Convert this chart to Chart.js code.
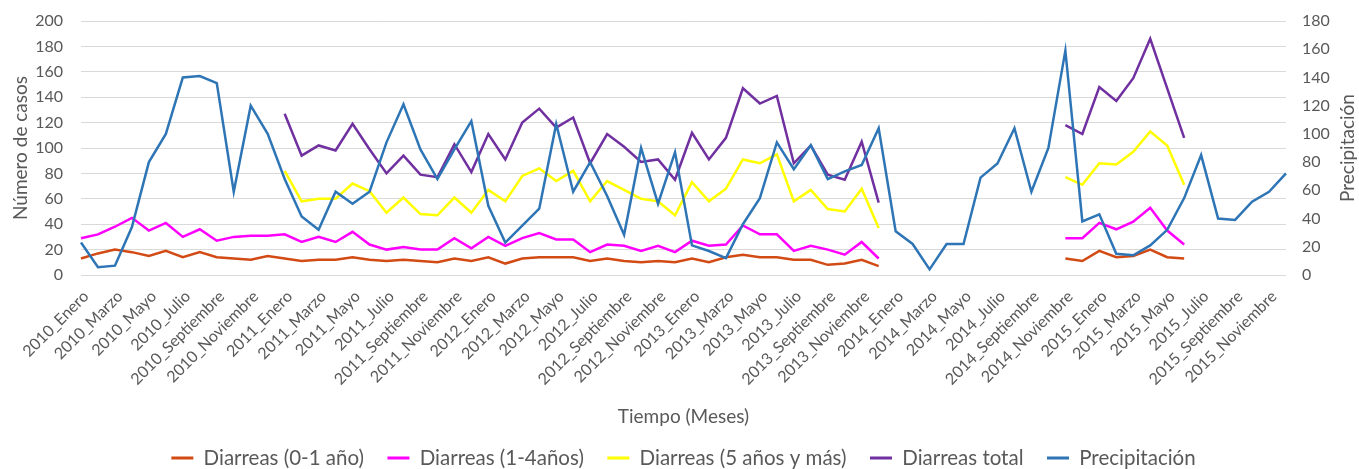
<!DOCTYPE html>
<html>
<head>
<meta charset="utf-8">
<script src="https://cdn.jsdelivr.net/npm/chart.js@4.4.1/dist/chart.umd.min.js"></script>
<style>
  html, body { margin: 0; padding: 0; background: #ffffff; }
  #wrap { width: 1359px; height: 469px; }
</style>
</head>
<body>
<div id="wrap"><canvas id="chart" width="1359" height="469"></canvas></div>
<script>
// Months of the series, 2010–2015
const years = [2010, 2011, 2012, 2013, 2014, 2015];
const months = ['Enero', 'Febrero', 'Marzo', 'Abril', 'Mayo', 'Junio', 'Julio',
                'Agosto', 'Septiembre', 'Octubre', 'Noviembre', 'Diciembre'];
const categories = years.flatMap(y => months.map(m => y + '_' + m));

// Monthly diarrhoea cases by age group (no records for 2010 in the older groups
// and for Jan–Oct 2014 and Jul–Dec 2015)
const diarreas01 = [13, 17, 20, 18, 15, 19, 14, 18, 14, 13, 12, 15,
                    13, 11, 12, 12, 14, 12, 11, 12, 11, 10, 13, 11,
                    14, 9, 13, 14, 14, 14, 11, 13, 11, 10, 11, 10,
                    13, 10, 14, 16, 14, 14, 12, 12, 8, 9, 12, 7,
                    null, null, null, null, null, null, null, null, null, null, 13, 11,
                    19, 14, 15, 20, 14, 13, null, null, null, null, null, null];
const diarreas14 = [29, 32, 38, 45, 35, 41, 30, 36, 27, 30, 31, 31,
                    32, 26, 30, 26, 34, 24, 20, 22, 20, 20, 29, 21,
                    30, 23, 29, 33, 28, 28, 18, 24, 23, 19, 23, 18,
                    27, 23, 24, 39, 32, 32, 19, 23, 20, 16, 26, 13,
                    null, null, null, null, null, null, null, null, null, null, 29, 29,
                    41, 36, 42, 53, 35, 24, null, null, null, null, null, null];
const diarreas5mas = [null, null, null, null, null, null, null, null, null, null, null, null,
                      82, 58, 60, 60, 72, 66, 49, 61, 48, 47, 61, 49,
                      67, 58, 78, 84, 74, 82, 58, 74, 67, 60, 58, 47,
                      73, 58, 68, 91, 88, 95, 58, 67, 52, 50, 68, 37,
                      null, null, null, null, null, null, null, null, null, null, 77, 71,
                      88, 87, 97, 113, 102, 71, null, null, null, null, null, null];
const diarreasTotal = [null, null, null, null, null, null, null, null, null, null, null, null,
                       127, 94, 102, 98, 119, 99, 80, 94, 79, 77, 103, 81,
                       111, 91, 120, 131, 116, 124, 88, 111, 101, 89, 91, 75,
                       112, 91, 108, 147, 135, 141, 88, 102, 79, 75, 105, 57,
                       null, null, null, null, null, null, null, null, null, null, 118, 111,
                       148, 137, 155, 186, 147, 108, null, null, null, null, null, null];
// Monthly rainfall (secondary axis)
const precipitacion = [23, 5.5, 6.6, 34, 80, 100, 140, 141, 136, 59, 120, 100,
                       68, 41.5, 32, 59, 50.5, 59, 94, 121, 89, 68, 89, 109,
                       49, 23, 35, 47, 107, 59, 80, 56, 28.5, 90, 50.5, 87,
                       21, 17, 12, 36, 54.5, 94, 75, 92, 68, 73.5, 78, 104,
                       31, 22, 4, 22, 22, 69, 79, 104, 59, 90, 159, 38,
                       43, 15, 14, 21, 32, 54.5, 85, 40, 39, 52, 59, 72];

// Axis ranges and tick steps
const casosTicks = { min: 0, max: 200, step: 20 };
const lluviaTicks = { min: 0, max: 180, step: 20 };

const FONT = 'Lato';
const TEXT = '#595959';

function serie(label, data, color, axis, order) {
  return {
    label, data, yAxisID: axis, order,
    borderColor: color, backgroundColor: color,
    borderWidth: 2.5, pointRadius: 0, pointHoverRadius: 0,
    tension: 0, spanGaps: false, borderJoinStyle: 'miter'
  };
}

// Fixed-width value axes; their tick padding must not push the plot area down
function fixedWidth(w) {
  return function (scale) {
    scale.width = w;
    scale.paddingTop = 0;
    scale.paddingBottom = 0;
  };
}

// Secondary axis title reads bottom-to-top like the primary one
const rightTitle = {
  id: 'rightTitle',
  afterDraw(chart) {
    const s = chart.scales.y1;
    const ctx = chart.ctx;
    ctx.save();
    ctx.translate(s.right - 11, (chart.chartArea.top + chart.chartArea.bottom) / 2);
    ctx.rotate(-Math.PI / 2);
    ctx.font = '19px ' + FONT;
    ctx.fillStyle = TEXT;
    ctx.textAlign = 'center';
    ctx.textBaseline = 'middle';
    ctx.fillText('Precipitación', 0, 0);
    ctx.restore();
  }
};

new Chart(document.getElementById('chart'), {
  type: 'line',
  data: {
    labels: categories,
    datasets: [
      serie('Diarreas (0-1 año)', diarreas01, '#D24A14', 'y', 5),
      serie('Diarreas (1-4años)', diarreas14, '#FF00FF', 'y', 4),
      serie('Diarreas (5 años y más)', diarreas5mas, '#FFFF00', 'y', 3),
      serie('Diarreas total', diarreasTotal, '#7030A0', 'y', 2),
      serie('Precipitación', precipitacion, '#2E75B6', 'y1', 1)
    ]
  },
  options: {
    responsive: false,
    animation: false,
    devicePixelRatio: 1,
    layout: { padding: { left: 8, right: 0, top: 21, bottom: -9.25 } },
    plugins: {
      tooltip: { enabled: false },
      legend: {
        position: 'bottom',
        labels: {
          font: { family: FONT, size: 20.5 },
          color: TEXT,
          boxWidth: 22,
          boxHeight: 3,
          padding: 23.5,
          sort: (a, b) => a.datasetIndex - b.datasetIndex,
          generateLabels(chart) {
            const items = Chart.defaults.plugins.legend.labels.generateLabels(chart);
            items.forEach(it => { it.fillStyle = it.strokeStyle; it.lineWidth = 0; });
            return items;
          }
        }
      }
    },
    scales: {
      x: {
        grid: { display: false },
        border: { display: false },
        ticks: {
          autoSkip: false,
          minRotation: 45,
          maxRotation: 45,
          padding: 4,
          labelOffset: 5,
          color: TEXT,
          font: { family: FONT, size: 16 },
          callback: (v, i) => (i % 2 === 0 ? categories[i] : '')
        },
        title: {
          display: true,
          text: 'Tiempo (Meses)',
          color: TEXT,
          font: { family: FONT, size: 19 },
          padding: { top: 0, bottom: -4 }
        },
        afterFit(scale) { scale.height = 149.25; }
      },
      y: {
        position: 'left',
        min: casosTicks.min, max: casosTicks.max,
        ticks: { stepSize: casosTicks.step, padding: 18, color: TEXT, font: { family: FONT, size: 16 } },
        grid: { color: '#D9D9D9', lineWidth: 1, drawTicks: false },
        border: { display: false },
        title: {
          display: true,
          text: 'Número de casos',
          color: TEXT,
          font: { family: FONT, size: 19 },
          padding: { top: 1.6, bottom: 0 }
        },
        afterFit: fixedWidth(73)
      },
      y1: {
        position: 'right',
        min: lluviaTicks.min, max: lluviaTicks.max,
        ticks: { stepSize: lluviaTicks.step, padding: 16, color: TEXT, font: { family: FONT, size: 16 } },
        grid: { display: false, drawTicks: false },
        border: { display: false },
        afterFit: fixedWidth(73)
      }
    }
  },
  plugins: [rightTitle]
});
</script>
</body>
</html>
